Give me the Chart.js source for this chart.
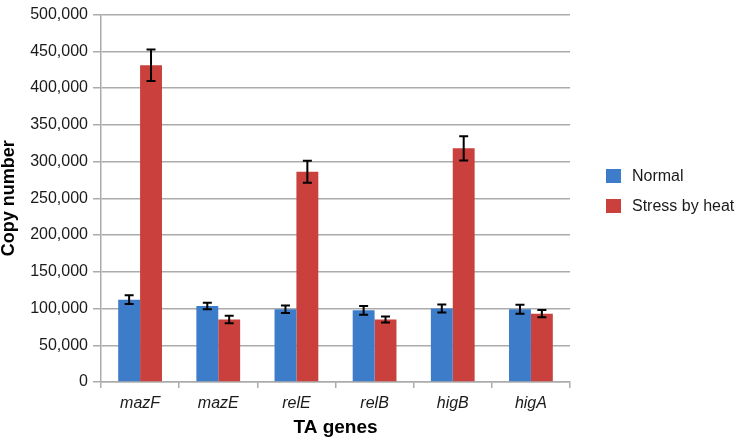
<!DOCTYPE html>
<html>
<head>
<meta charset="utf-8">
<script src="https://cdn.jsdelivr.net/npm/chart.js@4/dist/chart.umd.min.js"></script>
<style>
    body { margin: 0; background: #fff; }
    #wrap { position: relative; width: 736px; height: 442px; }
    #legend { position: absolute; left: 606px; top: 166px; font-family: 'Liberation Sans', Arial, sans-serif; font-size: 16px; color: #1a1a1a; }
    .item { display: flex; align-items: center; height: 20px; margin-bottom: 10px; }
    .swatch { width: 15px; height: 14px; margin-right: 11px; }
</style>
</head>
<body>
<div id="wrap">
    <canvas id="chart" width="736" height="442"></canvas>
    <div id="legend"></div>
</div>
<script>
// Data
const genes = ['mazF', 'mazE', 'relE', 'relB', 'higB', 'higA'];
const normal = [112000, 103500, 99000, 97500, 100000, 99000];
const normalErr = [6000, 4500, 5000, 6000, 5500, 6000];
const stress = [431000, 85000, 286000, 85000, 318000, 93000];
const stressErr = [21500, 5000, 15000, 4000, 16500, 5000];
const seriesNames = ['Normal', 'Stress by heat'];

const FONT = "'Liberation Sans', Arial, sans-serif";
const gridColor = '#ababab';

// Error bars drawn through the y scale
const errorBars = {
    id: 'errorBars',
    afterDatasetsDraw(chart) {
        const ctx = chart.ctx;
        const yScale = chart.scales.y;
        ctx.save();
        ctx.strokeStyle = '#000';
        ctx.lineWidth = 2;
        chart.data.datasets.forEach((ds, i) => {
            const meta = chart.getDatasetMeta(i);
            meta.data.forEach((bar, j) => {
                const v = ds.data[j];
                const e = ds.errors[j];
                const top = yScale.getPixelForValue(v + e);
                const bot = yScale.getPixelForValue(v - e);
                const x = bar.x;
                ctx.beginPath();
                ctx.moveTo(x, top);
                ctx.lineTo(x, bot);
                ctx.moveTo(x - 4.5, top);
                ctx.lineTo(x + 4.5, top);
                ctx.moveTo(x - 4.5, bot);
                ctx.lineTo(x + 4.5, bot);
                ctx.stroke();
            });
        });
        ctx.restore();
    }
};

const chart = new Chart(document.getElementById('chart'), {
    type: 'bar',
    data: {
        labels: genes,
        datasets: [{
            label: seriesNames[0],
            data: normal,
            errors: normalErr,
            backgroundColor: '#3d7cc9'
        }, {
            label: seriesNames[1],
            data: stress,
            errors: stressErr,
            backgroundColor: '#c9403c'
        }]
    },
    options: {
        responsive: false,
        animation: false,
        layout: {
            padding: { top: 10, right: 166, left: 0, bottom: 0 }
        },
        datasets: {
            bar: {
                categoryPercentage: 0.56,
                barPercentage: 1
            }
        },
        plugins: {
            legend: { display: false },
            tooltip: { enabled: false }
        },
        scales: {
            x: {
                afterFit: (scale) => { scale.height = 60; },
                grid: {
                    drawOnChartArea: false,
                    tickLength: 6,
                    color: gridColor,
                    lineWidth: 1.5
                },
                border: { color: gridColor, width: 1.5 },
                ticks: {
                    padding: 6,
                    color: '#1a1a1a',
                    font: { family: FONT, size: 16, style: 'italic' }
                },
                title: {
                    display: true,
                    text: 'TA genes',
                    color: '#000',
                    padding: { top: 0, bottom: 3 },
                    font: { family: FONT, size: 19, weight: 'bold' }
                }
            },
            y: {
                min: 0,
                max: 500000,
                afterFit: (scale) => { scale.width = 101; },
                grid: {
                    color: gridColor,
                    lineWidth: 1.5,
                    tickLength: 8
                },
                border: { color: gridColor, width: 1.5 },
                ticks: {
                    stepSize: 50000,
                    padding: 5,
                    color: '#1a1a1a',
                    font: { family: FONT, size: 16 },
                    callback: (v) => v.toLocaleString('en-US')
                },
                title: {
                    display: true,
                    text: 'Copy number',
                    color: '#000',
                    padding: { top: 0, bottom: 0 },
                    font: { family: FONT, size: 18, weight: 'bold', lineHeight: 1.0 }
                }
            }
        }
    },
    plugins: [errorBars]
});

// HTML legend built from the datasets
document.getElementById('legend').innerHTML = chart.data.datasets.map(ds => `
    <div class="item"><span class="swatch" style="background:${ds.backgroundColor}"></span>${ds.label}</div>
`).join('');
</script>
</body>
</html>
